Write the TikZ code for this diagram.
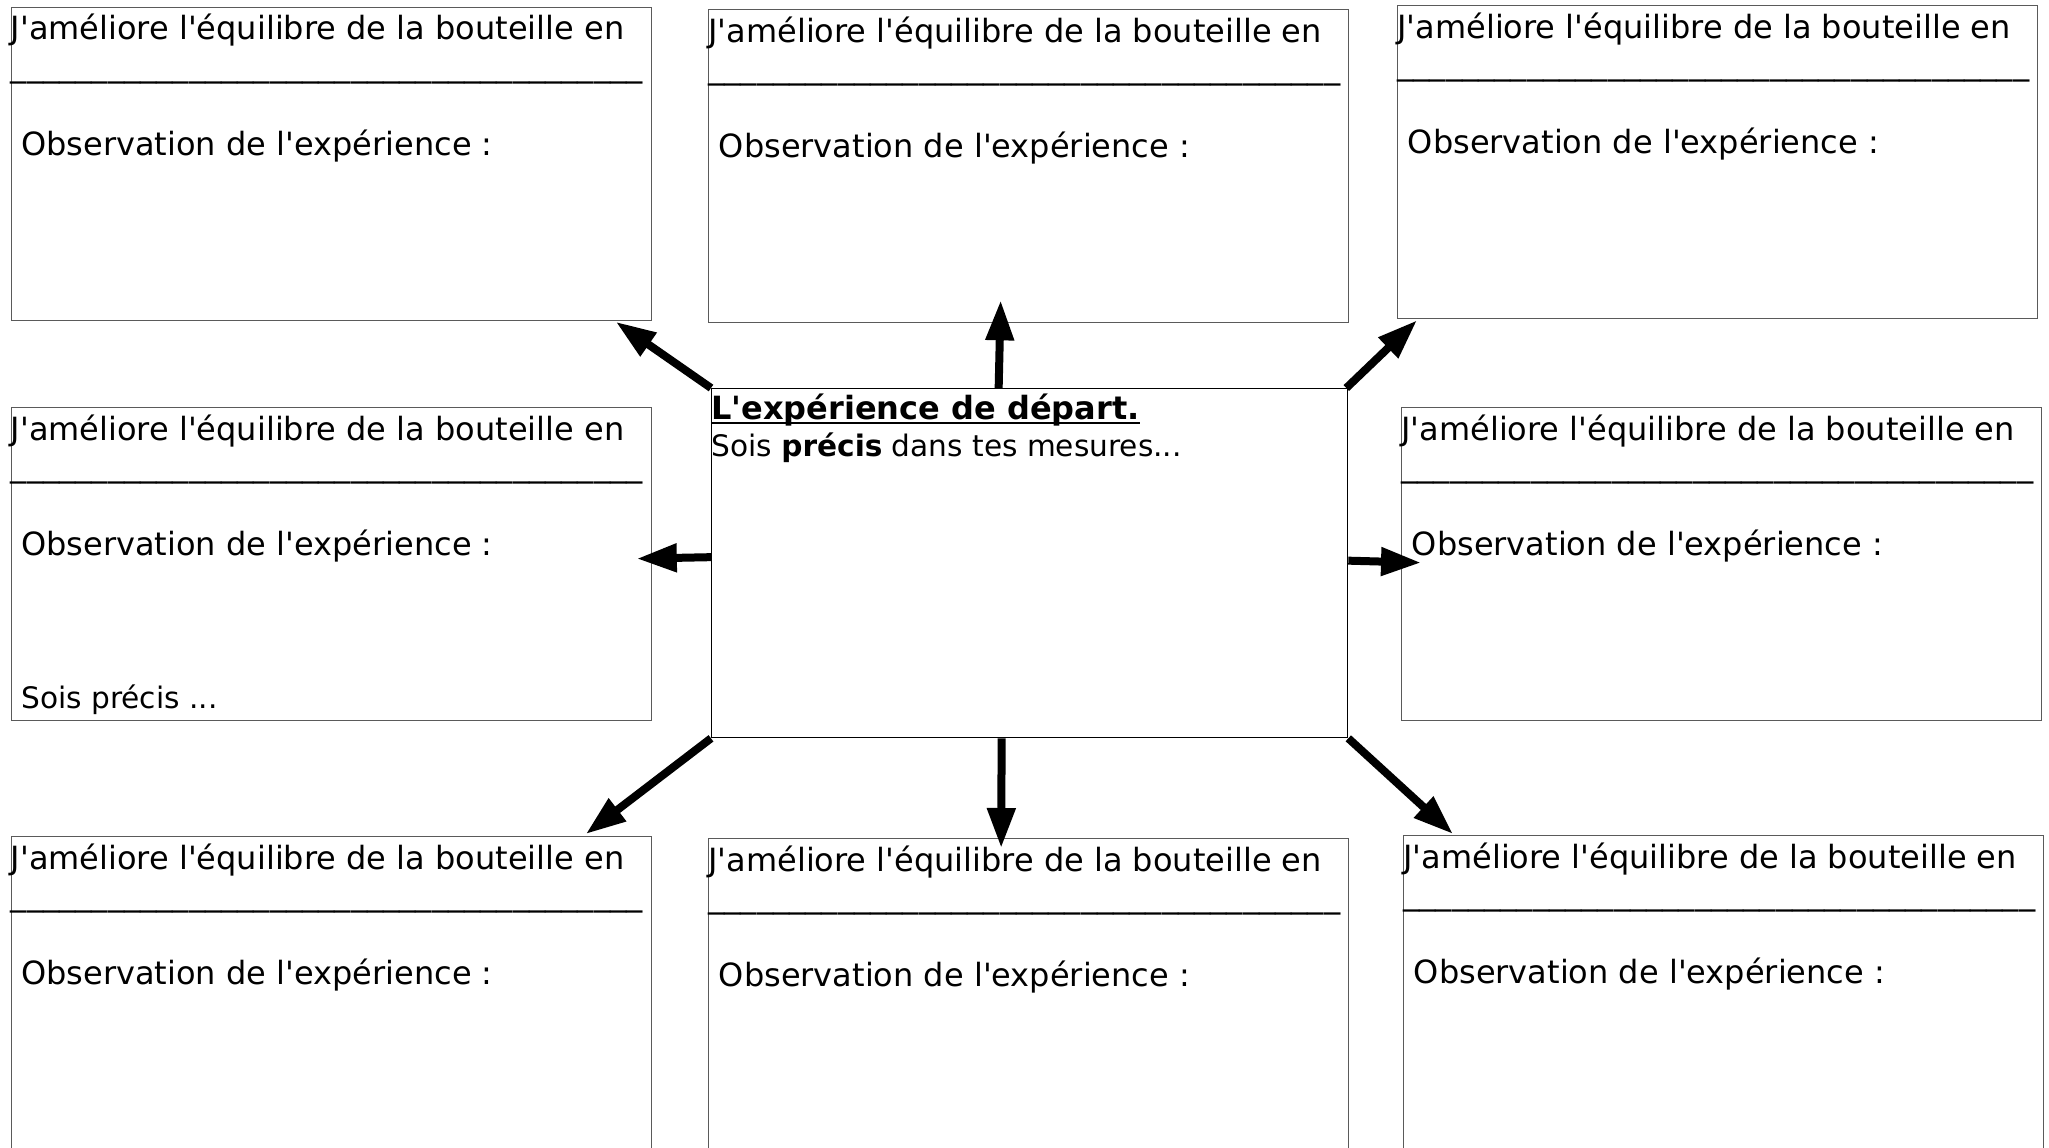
\documentclass[tikz,border=0pt]{standalone}
\usepackage{fontspec}
\setmainfont{DejaVu Sans}[Ligatures=TeXOff]
\usetikzlibrary{arrows.meta}
\definecolor{boxgray}{RGB}{90,90,90}
\newcommand\myblank{\_\_\_\_\_\_\_\_\_\_\_\_\_\_\_\_\_\_\_\_\_\_\_\_\_\_\_\_\_\_\_\_\_\_\_\_\_\_\_}
\tikzset{
  obox/.style={draw=boxgray, line width=0.65pt, rectangle, anchor=north west,
    minimum width=320pt, minimum height=156.5pt, inner sep=0pt},
  cbox/.style={draw=black, line width=0.65pt, rectangle, anchor=north west,
    minimum width=318pt, minimum height=174.5pt, inner sep=0pt},
  txt/.style={inner sep=0pt, anchor=base west, font=\fontsize{16pt}{19pt}\selectfont},
  smalltxt/.style={txt, font=\fontsize{14.8pt}{18pt}\selectfont},
  blanktxt/.style={txt, font=\fontsize{16.2pt}{19pt}\selectfont},
  arr/.style={line width=4pt, -{Triangle[length=20pt,width=13.5pt]}},
}
\newcommand\obsbox[3]{%
  \node[obox] (#1) at (#2,#3) {};
  \node[txt] (#1-t) at ([shift={(0,33)}]#1.north west) {J'améliore l'équilibre de la bouteille en};
  \node[blanktxt] (#1-u) at ([shift={(0,69.5)}]#1.north west) {\myblank};
  \node[txt] (#1-o) at ([shift={(10.5,148.5)}]#1.north west) {Observation de l'expérience :};
}
\begin{document}
\begin{tikzpicture}[x=0.5pt, y=-0.5pt]
\useasboundingbox (0,0) rectangle (2049,1147);
\clip (0,0) rectangle (2049,1147);
\fill[white] (0,0) rectangle (2049,1147);

\obsbox{tl}{10.5}{6.5}
\obsbox{tc}{708}{9}
\obsbox{tr}{1397}{5}
\obsbox{ml}{10.5}{407}
\obsbox{mr}{1401}{407}
\obsbox{bl}{10.5}{836}
\obsbox{bc}{708}{838}
\obsbox{br}{1403}{835}
\node[smalltxt] (ml-s) at ([shift={(10.5,301)}]ml.north west) {Sois précis ...};

\node[cbox] (c) at (711,388) {};
\node[txt] (c-t) at ([shift={(0,31)}]c.north west) {\textbf{L'expérience de départ.}};
\draw[line width=1pt] ([shift={(0,3.5)}]c-t.base west) -- ([shift={(0,3.5)}]c-t.base east);
\node[smalltxt] (c-s) at ([shift={(0,68)}]c.north west) {Sois \textbf{précis} dans tes mesures...};

\draw[arr] (c.north west) -- ([shift={(-36,1)}]tl.south east);
\draw[arr] ([shift={(-31,0)}]c.north) -- ([shift={(-28,-23)}]tc.south);
\draw[arr] ([shift={(-2,0)}]c.north east) -- ([shift={(20,1)}]tr.south west);
\draw[arr] ([shift={(0,-6)}]c.west) -- ([shift={(-15,-5.5)}]ml.east);
\draw[arr] ([shift={(0,-2.5)}]c.east) -- ([shift={(20,-1.5)}]mr.west);
\draw[arr] (c.south west) -- ([shift={(-66,-2)}]bl.north east);
\draw[arr] ([shift={(-28,0)}]c.south) -- ([shift={(-27.5,10)}]bc.north);
\draw[arr] (c.south east) -- ([shift={(50,-1)}]br.north west);
\end{tikzpicture}
\end{document}
